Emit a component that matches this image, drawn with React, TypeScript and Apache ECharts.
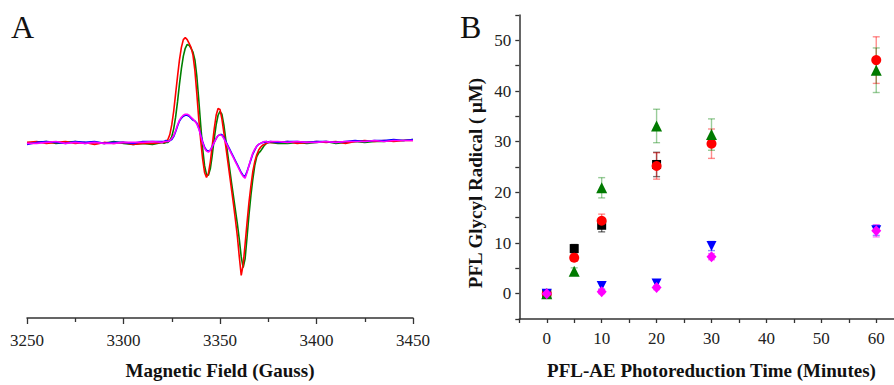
import React, { useEffect, useRef } from "react";
import * as echarts from "echarts";

// ---------- Panel A: EPR spectra ----------
const fieldGauss = [
  3250, 3255, 3260, 3265, 3270, 3275, 3280, 3285, 3290, 3295, 3300, 3305, 3310, 3315,
  3320, 3321, 3322, 3323, 3324, 3325, 3326, 3327, 3328, 3329,
  3330, 3331, 3332, 3333, 3334, 3335, 3336, 3337, 3338, 3339,
  3340, 3341, 3342, 3343, 3344, 3345, 3346, 3347, 3348, 3349,
  3350, 3351, 3352, 3353, 3354, 3355, 3356, 3357, 3358, 3359,
  3360, 3361, 3362, 3363, 3364, 3365, 3366, 3367, 3368, 3369,
  3370, 3371, 3372, 3373, 3374, 3375, 3376,
  3380, 3385, 3390, 3395, 3400, 3405, 3410, 3415, 3420, 3425, 3430, 3435, 3440, 3445, 3450,
];

const redSpectrum = [
  0, 1, -1, 0, 1, -1, 0, -2, 0, -1, 0, -2, -1, -1,
  0, 0, 1, 3, 8, 18, 32, 50, 68, 85,
  98, 106, 108, 106, 102, 98, 90, 74, 50, 24,
  2, -17, -31, -36, -32, -20, -3, 14, 28, 35,
  34, 24, 10, -4, -19, -34, -49, -64, -80, -97,
  -118, -137, -126, -105, -83, -62, -45, -30, -20, -13,
  -8, -5, -3, -2, -1, 0, 0,
  0, 1, -1, 0, 1, 0, 1, -1, 1, 2, 1, 2, 1, 2, 2,
];

const greenSpectrum = [
  -1, 0, 1, -1, 0, 1, -1, 0, -1, 1, -1, -2, -1, -2,
  0, -1, 0, 0, 2, 6, 14, 26, 42, 60,
  76, 89, 97, 101, 100, 97, 93, 85, 68, 44,
  18, -6, -24, -33, -34, -27, -13, 4, 18, 28,
  32, 29, 18, 3, -12, -27, -42, -56, -70, -84,
  -100, -118, -129, -120, -98, -75, -55, -38, -24, -15,
  -11, -9, -6, -3, -1, 0, 0,
  -1, -1, 0, -1, 0, 1, -1, 0, 1, 0, 1, 1, 2, 2, 3,
];

const blueSpectrum = [
  -2, 0, 1, 0, -1, 1, 0, 1, -1, 0, 0, -1, 1, 1,
  1, 1, 2, 1, 2, 3, 6, 11, 17, 22,
  25, 27, 28, 28, 27, 25, 23, 22, 20, 15,
  8, 1, -5, -8, -9, -8, -4, 0, 4, 7,
  8, 8, 5, 1, -3, -7, -11, -15, -19, -23,
  -27, -31, -34, -35, -30, -24, -18, -12, -8, -4,
  -2, -1, 0, 0, 1, 0, 1,
  0, 1, 1, 0, 1, 1, 0, 1, 2, 1, 2, 2, 3, 2, 3,
];

const magentaSpectrum = [
  -1, -1, 0, 1, -1, 0, -1, 0, -1, -1, 0, 0, 0, 1,
  0, 1, 1, 1, 2, 4, 7, 12, 18, 23,
  26, 28, 29, 29, 28, 26, 24, 22, 19, 14,
  7, 0, -6, -9, -10, -8, -4, 0, 4, 7,
  8, 7, 4, 0, -4, -8, -12, -16, -20, -24,
  -28, -32, -35, -37, -31, -24, -17, -11, -7, -4,
  -2, -1, 0, 1, 1, 0, 1,
  1, 0, 1, 0, 0, 1, 0, 1, 1, 1, 2, 1, 2, 2, 2,
];

// ---------- Panel B: time course ----------
const timeMinutes = [0, 5, 10, 20, 30, 60];
const blackValues = [0, 8.9, 13.5, 25.5, null, null];
const blackErrors = [0.3, 0.8, 1.3, 2.4, null, null];
const redValues = [0, 7.1, 14.4, 25.2, 29.6, 46.1];
const redErrors = [0.3, 0.7, 1.3, 2.6, 2.9, 4.6];
const greenValues = [0, 4.4, 20.9, 33.1, 31.4, 44.1];
const greenErrors = [0.3, 0.7, 2.0, 3.3, 3.1, 4.4];
const blueValues = [0, null, 1.5, 2.0, 9.4, 12.5];
const blueErrors = [0.3, null, 0.6, 0.6, 0.9, 1.0];
const magentaValues = [0, null, 0.4, 1.2, 7.3, 12.4];
const magentaErrors = [0.3, null, 0.4, 0.4, 0.6, 1.2];

const xTickLabelsB = [0, 10, 20, 30, 40, 50, 60];
const yTickLabelsB = [0, 10, 20, 30, 40, 50];

const SERIF = "'Liberation Serif', 'Times New Roman', serif";
const AXIS_COLOR = "#333";

function points(values: (number | null)[]) {
  const out: number[][] = [];
  values.forEach((v, i) => {
    if (v !== null) out.push([timeMinutes[i], v]);
  });
  return out;
}

function errPoints(values: (number | null)[], errs: (number | null)[]) {
  const out: number[][] = [];
  values.forEach((v, i) => {
    const e = errs[i];
    if (v !== null && e !== null) out.push([timeMinutes[i], v - e, v + e]);
  });
  return out;
}

function errorSeries(values: (number | null)[], errs: (number | null)[], color: string) {
  return {
    type: "custom",
    xAxisIndex: 1,
    yAxisIndex: 1,
    silent: true,
    data: errPoints(values, errs),
    encode: { x: 0, y: [1, 2] },
    renderItem: (params: any, api: any) => {
      const x = api.value(0);
      const lo = api.coord([x, api.value(1)]);
      const hi = api.coord([x, api.value(2)]);
      const w = 3.5;
      const style = { stroke: color, lineWidth: 1.4 };
      return {
        type: "group",
        children: [
          { type: "line", shape: { x1: lo[0], y1: lo[1], x2: hi[0], y2: hi[1] }, style },
          { type: "line", shape: { x1: lo[0] - w, y1: lo[1], x2: lo[0] + w, y2: lo[1] }, style },
          { type: "line", shape: { x1: hi[0] - w, y1: hi[1], x2: hi[0] + w, y2: hi[1] }, style },
        ],
      };
    },
  };
}

function spectrumSeries(values: number[], color: string) {
  return {
    type: "line",
    xAxisIndex: 0,
    yAxisIndex: 0,
    symbol: "none",
    silent: true,
    lineStyle: { color, width: 1.6 },
    data: fieldGauss.map((f, i) => [f, values[i]]),
  };
}

function scatterSeries(values: (number | null)[], color: string, symbol: string, size: number | number[], rotate = 0) {
  return {
    type: "scatter",
    xAxisIndex: 1,
    yAxisIndex: 1,
    symbol,
    symbolSize: size,
    symbolRotate: rotate,
    itemStyle: { color, opacity: 1 },
    silent: true,
    data: points(values),
  };
}

export default function App() {
  const ref = useRef<HTMLDivElement>(null);

  useEffect(() => {
    if (!ref.current) return;
    const chart = echarts.init(ref.current, null, { renderer: "svg" });
    const tickLabelStyle = { fontFamily: SERIF, fontSize: 17, color: "#222" };
    const titleStyle = { fontFamily: SERIF, fontSize: 19, fontWeight: "bold", color: "#111" };

    chart.setOption({
      animation: false,
      backgroundColor: "#fff",
      textStyle: { fontFamily: SERIF },
      grid: [
        { left: 27, top: 26, width: 386, height: 301 },
        { left: 519.3, top: 15, width: 384.4, height: 308.3 },
      ],
      xAxis: [
        {
          gridIndex: 0,
          type: "value",
          min: 3250,
          max: 3450,
          interval: 50,
          axisLine: { show: true, onZero: false, lineStyle: { color: AXIS_COLOR, width: 1.5 } },
          axisTick: { show: true, length: 6, lineStyle: { color: AXIS_COLOR, width: 1.3 } },
          minorTick: { show: true, splitNumber: 2, length: 4, lineStyle: { color: AXIS_COLOR, width: 1.3 } },
          axisLabel: { ...tickLabelStyle, margin: 14, formatter: (v: number) => String(v) },
          splitLine: { show: false },
          name: "Magnetic Field (Gauss)",
          nameLocation: "middle",
          nameGap: 43,
          nameTextStyle: titleStyle,
        },
        {
          gridIndex: 1,
          type: "value",
          min: -5,
          max: 65,
          interval: 5,
          axisLine: { show: true, onZero: false, lineStyle: { color: AXIS_COLOR, width: 1.5 } },
          axisTick: { show: true, length: 4, lineStyle: { color: AXIS_COLOR, width: 1.3 } },
          axisLabel: {
            ...tickLabelStyle,
            margin: 11,
            formatter: (v: number) => (xTickLabelsB.includes(v) ? String(v) : ""),
          },
          splitLine: { show: false },
          name: "PFL-AE Photoreduction Time (Minutes)",
          nameLocation: "middle",
          nameGap: 42,
          nameTextStyle: titleStyle,
        },
      ],
      yAxis: [
        { gridIndex: 0, type: "value", show: false, min: -181, max: 120 },
        {
          gridIndex: 1,
          type: "value",
          min: -5,
          max: 55,
          interval: 5,
          axisLine: { show: true, onZero: false, lineStyle: { color: AXIS_COLOR, width: 1.5 } },
          axisTick: { show: true, length: 4, lineStyle: { color: AXIS_COLOR, width: 1.3 } },
          axisLabel: {
            ...tickLabelStyle,
            margin: 8,
            formatter: (v: number) => (yTickLabelsB.includes(v) ? String(v) : ""),
          },
          splitLine: { show: false },
        },
      ],
      graphic: [
        { type: "text", left: 11, top: 11, style: { text: "A", fontFamily: SERIF, fontSize: 32, fill: "#111" } },
        { type: "text", left: 460, top: 11, style: { text: "B", fontFamily: SERIF, fontSize: 32, fill: "#111" } },
        {
          type: "text",
          x: 475,
          y: 183,
          rotation: Math.PI / 2,
          style: {
            text: "PFL Glycyl Radical ( μM)",
            fontFamily: SERIF,
            fontSize: 19,
            fontWeight: "bold",
            fill: "#111",
            align: "center",
            verticalAlign: "middle",
          },
        },
      ],
      series: [
        spectrumSeries(greenSpectrum, "#008000"),
        spectrumSeries(redSpectrum, "#ff0000"),
        spectrumSeries(blueSpectrum, "#0000ff"),
        spectrumSeries(magentaSpectrum, "#ff00ff"),

        errorSeries(blackValues, blackErrors, "rgba(0,0,0,0.55)"),
        scatterSeries(blackValues, "#000000", "rect", 9),
        errorSeries(redValues, redErrors, "rgba(255,0,0,0.45)"),
        scatterSeries(redValues, "#ff0000", "circle", 10),
        errorSeries(greenValues, greenErrors, "rgba(0,128,0,0.4)"),
        scatterSeries(greenValues, "#007a00", "triangle", 11),
        errorSeries(blueValues, blueErrors, "rgba(0,0,255,0.45)"),
        scatterSeries(blueValues, "#0000ff", "triangle", 10, 180),
        errorSeries(magentaValues, magentaErrors, "rgba(255,0,255,0.5)"),
        scatterSeries(magentaValues, "#ff00ff", "diamond", [10, 11]),
      ],
    });

    return () => chart.dispose();
  }, []);

  return (
    <div style={{ position: "fixed", left: 0, top: 0, width: 894, height: 385, overflow: "hidden", background: "#fff" }}>
      <div ref={ref} style={{ width: 910, height: 385 }} />
    </div>
  );
}
